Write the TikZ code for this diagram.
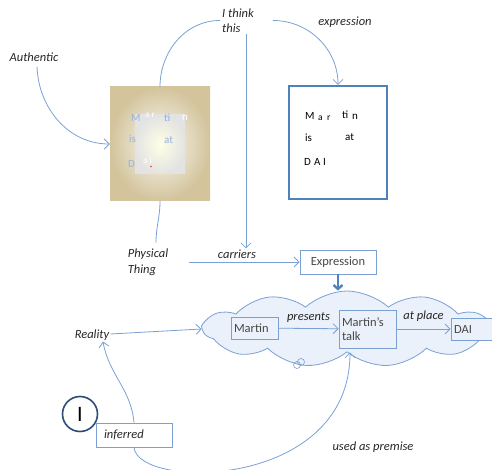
\documentclass[tikz,border=0pt]{standalone}
\usepackage{fontspec}
\setmainfont{Carlito}
\usepackage{tikz}
\usetikzlibrary{shapes,arrows.meta,fit,positioning}

\definecolor{linkblue}{HTML}{7BA0D4}
\definecolor{boxblue}{HTML}{4F81BD}
\definecolor{cloudfill}{HTML}{EAF1FB}
\definecolor{textdark}{HTML}{262626}
\definecolor{beige}{HTML}{D3C49C}
\definecolor{ringblue}{HTML}{2E4C7A}
\definecolor{fadeblue}{HTML}{95B3DE}

\begin{document}
\begin{tikzpicture}[x=1pt,y=-1pt,
  lbl/.style={font=\fontsize{12.5}{15.5}\selectfont\itshape, text=textdark, align=left, inner sep=1pt},
  conn/.style={draw=linkblue, line width=0.8pt, -{Straight Barb[length=5pt,width=10pt]}},
  plain/.style={draw=linkblue, line width=0.8pt},
  tbox/.style={draw=linkblue, line width=0.8pt, font=\fontsize{12.5}{14.5}\selectfont, text=textdark!85, align=left, inner xsep=3pt, inner ysep=3pt},
  wart/.style={font=\fontsize{11}{13}\selectfont, inner sep=0pt, anchor=base west}]
\useasboundingbox (0,0) rectangle (492,470);
\clip (0,0) rectangle (492,470);

% the cloud of the talk
\node[cloud, cloud puffs=11, cloud puff arc=85, draw=linkblue, fill=cloudfill, line width=0.8pt,
  minimum width=287, minimum height=76, aspect=3.8] (talkcloud) at (347,329) {};
\draw[linkblue, line width=0.6pt] (297,365) circle (3.5) (301,362) circle (3.5);

% physical thing (beige) and what is said (blue frame)
\node[minimum width=100, minimum height=114, inner sep=0, inner color=beige!10, outer color=beige] (paper) at (160,144) {};
\node[minimum width=50, minimum height=59, inner sep=0, inner color=white!90!yellow, outer color=gray!22] at (160,144.5) {};
\node[wart, text=fadeblue] at (131,122) {M};
\node[wart, text=white, font=\fontsize{9}{11}\selectfont] at (145,118) {a r};
\node[wart, text=fadeblue] at (164,122) {ti};
\node[wart, text=white] at (182,121) {n};
\node[wart, text=fadeblue] at (129,143) {is};
\node[wart, text=fadeblue] at (164,144) {at};
\node[wart, text=fadeblue] at (128,168) {D};
\node[wart, text=white, font=\fontsize{9}{11}\selectfont] at (143,164) {a I};
\fill[red!80] (151,166.5) circle (0.9);

\node[draw=boxblue, line width=2.2pt, minimum width=98, minimum height=113, inner sep=0] (said) at (338,142.5) {};
\node[wart] at (305,120) {M};
\node[wart, font=\fontsize{9.5}{11}\selectfont] at (318,121) {a};
\node[wart, font=\fontsize{9.5}{11}\selectfont] at (327,121) {r};
\node[wart] at (342,119) {ti};
\node[wart] at (352,119.5) {n};
\node[wart] at (305,142) {is};
\node[wart] at (345,141) {at};
\node[wart] at (304,166) {D};
\node[wart] at (314,166) {A};
\node[wart] at (323,166) {I};

% labels
\node[lbl] (authentic) at (34,57) {Authentic};
\node[lbl] (think) at (238,20.5) {I think\\this};
\node[lbl] (expression) at (345,22) {expression};
\node[lbl] (phys) at (148,262) {Physical\\Thing};
\node[lbl] (carriers) at (237,254) {carriers};
\node[lbl] (reality) at (92,335) {Reality};
\node[lbl] (premise) at (373,447) {used as premise};

% boxes
\node[tbox, fill=white, align=center, minimum width=76, minimum height=24] (express) at (338,262) {Expression};
\node[tbox, fill=cloudfill, text width=41, minimum height=22] (martin) at (254.5,328) {Martin};
\node[tbox, fill=cloudfill, text width=51, minimum height=38] (mtalk) at (367.5,329) {Martin’s\\talk};
\node[tbox, fill=cloudfill, text width=44, minimum height=22] (dai) at (476,329) {DAI};
\node[tbox, fill=white, font=\fontsize{12.5}{14.5}\selectfont\itshape, text=textdark, inner xsep=8pt, text width=60, minimum height=24] (inferred) at (134,435) {inferred};
\node[circle, draw=ringblue, line width=1.6pt, minimum size=35, inner sep=0, font=\fontsize{22}{22}\selectfont] (ident) at (80,414) {I};

% connectors
\draw[conn] ([xshift=3pt,yshift=-4pt]authentic.south) to[out=-88,in=180] (paper.west);
\draw[plain] (paper.north) to[out=90,in=180] ([xshift=-1pt]think.west);
\draw[conn] ([xshift=18pt]think.east) to[out=0,in=90] (said.north);
\draw[conn] ([xshift=8pt]think.south) -- ([xshift=9pt]carriers.north);
\draw[plain] (paper.south) to[out=-90,in=90] ([xshift=8pt,yshift=5pt]phys.north);
\draw[conn] ([xshift=20pt]phys.east) -- (express.west);
\draw[draw=boxblue, line width=2.4pt, -{Straight Barb[length=4pt,width=9pt]}] (express) -- (express |- talkcloud.north);
\draw[conn] (martin) -- node[lbl, above=5pt] {presents} (mtalk);
\draw[conn] (mtalk) -- node[lbl, above=6pt] {at place} (dai);
\draw[conn] (reality) -- (talkcloud.west);
\draw[conn] (inferred.north) to[out=95,in=-80] ([xshift=11pt]reality.south);
\draw[conn] (inferred.south) .. controls (138,490) and (350,490) .. ([xshift=3pt]talkcloud.south);
\end{tikzpicture}
\end{document}
